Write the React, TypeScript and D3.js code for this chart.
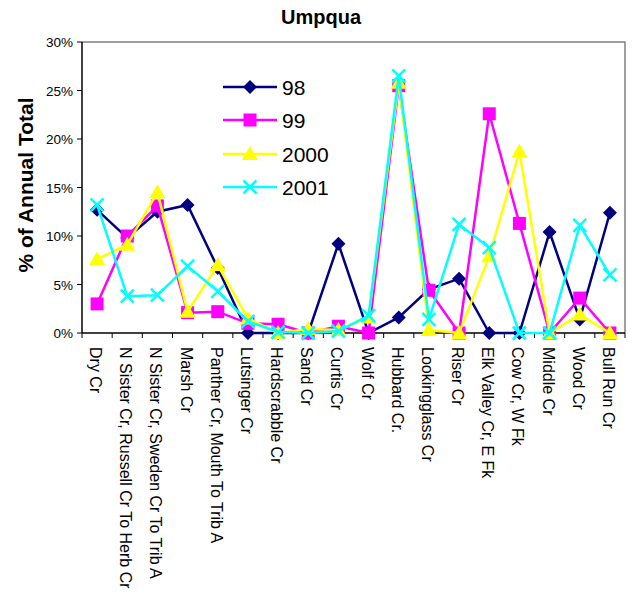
import React from "react";
import * as d3 from "d3";

const categories = [
  "Dry Cr",
  "N Sister Cr, Russell Cr To Herb Cr",
  "N Sister Cr, Sweden Cr To Trib A",
  "Marsh Cr",
  "Panther Cr, Mouth To Trib A",
  "Lutsinger Cr",
  "Hardscrabble Cr",
  "Sand Cr",
  "Curtis Cr",
  "Wolf Cr",
  "Hubbard Cr.",
  "Lookingglass Cr",
  "Riser Cr",
  "Elk Valley Cr, E Fk",
  "Cow Cr, W Fk",
  "Middle Cr",
  "Wood Cr",
  "Bull Run Cr",
];

const s98 = [12.7, 9.8, 12.5, 13.2, 6.7, 0, 0, 0, 9.2, 0, 1.6, 4.5, 5.6, 0, 0, 10.4, 1.4, 12.4];
const s99 = [3.0, 10.0, 13.1, 2.1, 2.2, 1.0, 0.9, 0, 0.7, 0, 25.5, 4.4, 0, 22.6, 11.3, 0, 3.6, 0];
const s2000 = [7.6, 9.1, 14.5, 2.2, 7.0, 1.5, 0, 0.4, 0.3, 1.6, 25.8, 0.3, 0, 7.9, 18.7, 0, 1.9, 0];
const s2001 = [13.2, 3.8, 3.9, 6.9, 4.3, 1.2, 0.1, 0, 0.2, 1.8, 26.5, 1.4, 11.2, 8.8, 0, 0, 11.1, 6.0];

const seriesNames = ["98", "99", "2000", "2001"];
const seriesColors = ["#000080", "#FF00FF", "#FFFF00", "#00FFFF"];
const seriesShapes = ["diamond", "square", "triangle", "x"];
const yTicks = [0, 5, 10, 15, 20, 25, 30];
const legendY = [87, 120, 154, 187];

const W = 638;
const H = 595;
const left = 82;
const right = 625;
const top = 42;
const bottom = 333;

function Marker({ shape, color, x, y }: { shape: string; color: string; x: number; y: number }) {
  if (shape === "diamond") {
    const r = 7;
    return <path d={`M${x},${y - r}L${x + r},${y}L${x},${y + r}L${x - r},${y}Z`} fill={color} />;
  }
  if (shape === "square") {
    const r = 6.5;
    return <rect x={x - r} y={y - r} width={2 * r} height={2 * r} fill={color} />;
  }
  if (shape === "triangle") {
    const r = 8;
    return <path d={`M${x},${y - r}L${x + r},${y + r * 0.75}L${x - r},${y + r * 0.75}Z`} fill={color} />;
  }
  const r = 6.5;
  return (
    <path
      d={`M${x - r},${y - r}L${x + r},${y + r}M${x - r},${y + r}L${x + r},${y - r}`}
      stroke={color}
      strokeWidth={2.5}
      fill="none"
    />
  );
}

export default function App() {
  const x = d3.scaleBand<string>().domain(categories).range([left, right]).padding(0);
  const y = d3.scaleLinear().domain([0, 30]).range([bottom, top]);
  const data = [s98, s99, s2000, s2001];
  const line = d3
    .line<number>()
    .x((_, i) => (x(categories[i]) as number) + x.bandwidth() / 2)
    .y((d) => y(d));
  const font = "Arial, 'Liberation Sans', sans-serif";

  return (
    <svg
      width={W}
      height={H}
      style={{ position: "absolute", left: 0, top: 0, background: "#fff" }}
      fontFamily={font}
    >
      <rect x={0} y={0} width={W} height={H} fill="#fff" />
      <text x={321} y={24} textAnchor="middle" fontSize={20} fontWeight="bold">
        Umpqua
      </text>
      <text
        transform={`translate(33,185) rotate(-90)`}
        textAnchor="middle"
        fontSize={21}
        fontWeight="bold"
      >
        % of Annual Total
      </text>
      {/* plot border */}
      <path d={`M${left},${top}H${right}V${bottom}`} stroke="#808080" strokeWidth={1.5} fill="none" />
      <line x1={left} x2={left} y1={top} y2={bottom} stroke="#000" strokeWidth={1.5} />
      <line x1={left} x2={right} y1={bottom} y2={bottom} stroke="#000" strokeWidth={1.5} />
      {yTicks.map((t) => (
        <g key={t}>
          <line x1={left - 5} x2={left} y1={y(t)} y2={y(t)} stroke="#000" strokeWidth={1} />
          <text x={left - 9} y={y(t) + 5} textAnchor="end" fontSize={13.5}>
            {t}%
          </text>
        </g>
      ))}
      {categories.map((c, i) => (
        <line
          key={"t" + i}
          x1={(x(c) as number) + x.bandwidth()}
          x2={(x(c) as number) + x.bandwidth()}
          y1={bottom}
          y2={bottom + 5}
          stroke="#000"
        />
      ))}
      <line x1={left} x2={left} y1={bottom} y2={bottom + 5} stroke="#000" />
      {categories.map((c, i) => {
        const cx = (x(c) as number) + x.bandwidth() / 2;
        return (
          <text
            key={"l" + i}
            transform={`translate(${cx - 7},347) rotate(90)`}
            fontSize={16}
            textAnchor="start"
          >
            {c}
          </text>
        );
      })}
      {data.map((s, si) => (
        <g key={"s" + si}>
          <path d={line(s) as string} stroke={seriesColors[si]} strokeWidth={2.5} fill="none" />
          {s.map((v, i) => (
            <Marker
              key={i}
              shape={seriesShapes[si]}
              color={seriesColors[si]}
              x={(x(categories[i]) as number) + x.bandwidth() / 2}
              y={y(v)}
            />
          ))}
        </g>
      ))}
      {seriesNames.map((n, i) => {
        const ly = legendY[i];
        return (
          <g key={"lg" + i}>
            <line x1={223} x2={277} y1={ly} y2={ly} stroke={seriesColors[i]} strokeWidth={2.5} />
            <Marker shape={seriesShapes[i]} color={seriesColors[i]} x={250} y={ly} />
            <text x={282} y={ly + 8} fontSize={21}>
              {n}
            </text>
          </g>
        );
      })}
    </svg>
  );
}
